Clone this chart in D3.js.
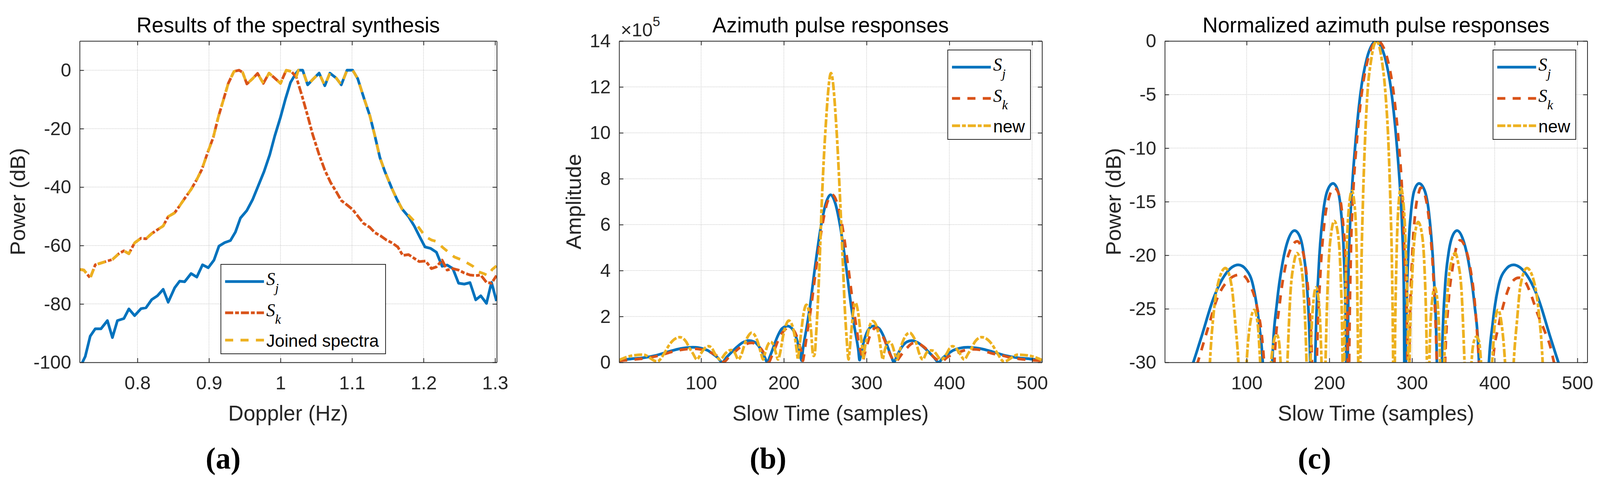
<!DOCTYPE html>
<html>
<head>
<meta charset="utf-8">
<script src="https://cdn.jsdelivr.net/npm/d3@7"></script>
<style>
html, body { margin: 0; padding: 0; background: #fff; overflow: hidden; }
#fig { display: block; width: 100vw; height: 100vh; }
</style>
</head>
<body>
<svg id="fig"></svg>
<script>
/* (a) spectra: [Doppler Hz, power dB] */
var sjSpectrum = [
	[0.719,-103],[0.723,-100],[0.727,-98],[0.734,-91],[0.741,-88.5],[0.749,-88.5],[0.758,-85.7],[0.765,-91.5],[0.772,-85.7],
	[0.781,-85],[0.788,-81.7],[0.796,-84],[0.805,-81.6],[0.812,-81.3],[0.820,-78.5],[0.828,-77.2],[0.836,-75],
	[0.843,-79.4],[0.852,-74.5],[0.859,-72.2],[0.866,-72.4],[0.875,-69.6],[0.883,-70.8],[0.891,-66.6],[0.899,-67.6],
	[0.907,-65],[0.914,-60.2],[0.922,-59],[0.930,-58.3],[0.937,-55.4],[0.944,-50.6],[0.953,-48],[0.961,-44.3],
	[0.969,-39.5],[0.977,-34.7],[0.985,-28.9],[0.992,-22.5],[1.000,-16.1],[1.007,-9.8],[1.014,-4.2],[1.021,-1.3],
	[1.025,0],[1.031,0],[1.038,-5],[1.045,-3.2],[1.054,-1],[1.062,-5.3],[1.069,-1],[1.078,-2.7],[1.085,-5],
	[1.093,0],[1.101,0],[1.108,-2.9],[1.117,-9.8],[1.125,-15.6],[1.132,-22.5],[1.139,-29.9],[1.146,-34.7],
	[1.156,-40.6],[1.163,-44.3],[1.170,-47.5],[1.179,-50.1],[1.187,-53.3],[1.194,-56.7],[1.202,-60.5],[1.210,-61],
	[1.218,-62.3],[1.226,-67.1],[1.233,-66.7],[1.241,-67.9],[1.249,-72.9],[1.257,-73.2],[1.265,-72.7],[1.273,-78.6],
	[1.280,-77.2],[1.288,-79.8],[1.295,-72.6],[1.302,-79]
]
var skSpectrum = [
	[0.719,-68.2],[0.725,-68.4],[0.734,-71.1],[0.741,-66.6],[0.749,-66],[0.758,-65.3],[0.765,-64.8],[0.774,-62.8],
	[0.781,-61.8],[0.788,-62.8],[0.796,-59.1],[0.805,-57.5],[0.812,-57.7],[0.820,-55.9],[0.828,-54.6],[0.836,-53.3],
	[0.843,-50.1],[0.852,-48.8],[0.859,-46.4],[0.866,-43.9],[0.875,-40.8],[0.883,-37.4],[0.890,-34],[0.898,-28.3],
	[0.906,-23],[0.913,-16.1],[0.920,-10.3],[0.927,-4.5],[0.935,-0.4],[0.942,0],[0.947,-0.7],[0.953,-4.7],
	[0.961,-2.9],[0.968,-1.1],[0.976,-4.5],[0.984,-1],[0.991,-2.5],[1.000,-4.5],[1.008,0],[1.015,-0.4],
	[1.022,-2.3],[1.030,-8.7],[1.038,-15.6],[1.045,-22],[1.054,-28.9],[1.062,-34.2],[1.070,-38.4],[1.078,-41.6],
	[1.085,-44.6],[1.093,-46.1],[1.101,-47.7],[1.108,-49.9],[1.116,-52.4],[1.125,-53.8],[1.132,-55.6],[1.140,-56.7],
	[1.148,-58.1],[1.156,-59.1],[1.164,-60.5],[1.171,-63.4],[1.179,-63.1],[1.187,-64.4],[1.194,-65.5],[1.203,-65.3],
	[1.211,-67.9],[1.218,-67.3],[1.226,-65],[1.233,-68.4],[1.241,-67.9],[1.249,-68.4],[1.257,-69.4],[1.265,-70.1],
	[1.273,-70.3],[1.280,-70.1],[1.288,-72.6],[1.295,-72.9],[1.302,-70.3]
]
/* joined spectra: Sk below the crossing, Sj above it, then its own upper tail */
var joinedTail = [
	[1.179,-49.6],[1.187,-51.7],[1.195,-54.4],[1.203,-57],[1.211,-58.1],[1.218,-58.6],[1.227,-60.7],[1.235,-62.3],
	[1.243,-63.9],[1.252,-64.8],[1.260,-65.8],[1.269,-67.1],[1.277,-69],[1.285,-69.7],[1.290,-70.3],[1.296,-68.2],[1.302,-67]
]
var joinedSpectrum = skSpectrum.filter(function(d) { return d[0] < 1.023 })
	.concat(sjSpectrum.filter(function(d) { return d[0] >= 1.023 && d[0] <= 1.171 }))
	.concat(joinedTail)

/* (b) amplitude, units of 1e5: [sample, amplitude] */
var sjAmplitude = [
	[1,0.09],[15,0.15],[30,0.2],[45,0.3],[60,0.46],[75,0.6],[90,0.66],[100,0.62],[108,0.52],[115,0.35],[120,0.21],[125.5,0.01],
	[131,0.23],[137,0.45],[143,0.66],[150,0.86],[158,0.95],[164,0.9],[169,0.74],[173,0.52],[177,0.22],[180,0.01],
	[183,0.24],[187,0.62],[192,1.1],[198,1.48],[204.5,1.58],[210,1.47],[214,1.18],[217.5,0.75],[220,0.33],[221.5,0.08],
	[223,0.55],[225,1.0],[227.5,1.5],[231.5,2.42],[237.5,4.1],[245.5,6.06],[251,6.95],[256.5,7.3],[262,6.95],[267.5,6.06],
	[275.5,4.1],[281.5,2.42],[285.5,1.5],[288,1.0],[290,0.55],[291.5,0.1],
	[293,0.33],[295.5,0.75],[299,1.18],[303,1.47],[308.5,1.58],[315,1.48],[321,1.1],[326,0.62],[330,0.24],[333,0.01],
	[336,0.22],[340,0.52],[344,0.74],[349,0.9],[354.5,0.95],[362,0.86],[369,0.66],[375,0.45],[381,0.23],[387,0.01],
	[392.5,0.21],[397.5,0.35],[404.5,0.52],[412.5,0.62],[422.5,0.66],[437.5,0.6],[452.5,0.46],[467.5,0.3],[482.5,0.2],
	[497.5,0.15],[512,0.09]
]
var skAmplitude = [
	[1,0.073],[20,0.13],[40.8,0.231],[54,0.341],[64,0.455],[77,0.553],[86,0.586],[93,0.593],[103,0.54],[113,0.41],
	[119,0.291],[121,0.231],[124,0.116],[127.5,0.023],
	[133.6,0.231],[140,0.434],[147,0.651],[154,0.792],[160.9,0.849],[167,0.783],[172,0.614],[176,0.41],[179,0.231],[182,0.023],
	[184.9,0.231],[189,0.58],[194,1.033],[200,1.377],[206,1.511],[212,1.393],[216,1.094],[219.5,0.689],[222,0.326],[223,0.073],
	[224,0.231],[226,0.73],[229,1.46],[233,2.42],[239,4.1],[247,6.07],[252.5,6.97],[258.5,7.3],[264.5,6.93],[270,6.07],
	[278,4.1],[284,2.42],[288,1.46],[291,0.73],[294,0.326],[295.5,0.058],
	[297,0.291],[300,0.689],[304,1.158],[308,1.426],[310.5,1.511],[316,1.377],[321,1.033],[325.5,0.614],[330,0.231],[335,0.023],
	[340,0.231],[344,0.434],[349,0.636],[353.5,0.792],[358.2,0.859],[364.5,0.792],[370,0.651],[376,0.434],[381,0.231],
	[385,0.116],[390,0.023],
	[397.7,0.231],[405,0.345],[412.5,0.455],[420,0.54],[429,0.572],[437,0.547],[444,0.476],[452,0.387],[460,0.326],
	[467.5,0.271],[471.7,0.231],[490,0.13],[512,0.073]
]
var newAmplitude = [
	[1,0.1],[15,0.282],[30,0.335],[47,0.04],
	[55.6,0.398],[60.5,0.704],[65.5,0.935],[74.3,1.098],[81.9,0.903],[86,0.624],[90,0.398],[95,0.126],
	[100,0.398],[104,0.596],[109.2,0.704],[113.5,0.596],[116.4,0.398],[123,0.126],
	[129.6,0.398],[133,0.501],[136.2,0.537],[139,0.501],[141,0.398],[145,0.126],
	[149.3,0.398],[153,0.841],[157,1.15],[160.9,1.29],[165,1.177],[169,0.841],[172.4,0.398],[175,0.126],
	[177.3,0.398],[180.5,0.75],[183.9,0.893],[187.5,0.75],[190.5,0.398],[193,0.126],
	[195.4,0.398],[199,1.124],[202.5,1.623],[206,1.82],[210,1.623],[213.5,1.061],[216,0.398],[217,0.126],
	[218,0.398],[221,1.335],[224,2.157],[227.3,2.509],[230.5,2.157],[233,1.335],[235,0.398],[236.3,0.282],
	[237.5,0.398],[238.8,1.098],[240.5,2.132],[243,4.175],[246,7.085],[250.5,10.24],[257,12.6],[263.5,10.24],
	[268,7.085],[271.5,4.175],[274,2.132],[275.8,1.098],[277.2,0.398],[278.2,0.126],
	[279.2,0.398],[281.5,1.335],[284,2.241],[286.5,2.601],[289.5,2.241],[292.5,1.335],[295.5,0.398],[296.3,0.126],
	[297,0.398],[300.5,1.061],[304,1.623],[307.5,1.8],[311.5,1.623],[315,1.124],[318,0.398],[319.5,0.126],
	[321,0.398],[324,0.75],[327.5,0.893],[331,0.75],[334,0.398],[336.5,0.126],
	[339,0.398],[343,0.841],[347.5,1.177],[352.3,1.29],[356,1.15],[360,0.841],[363.5,0.398],[368,0.126],
	[372,0.398],[375,0.501],[378,0.524],[381,0.501],[383.5,0.398],[390,0.126],
	[397,0.398],[400,0.596],[404,0.704],[408.5,0.596],[412.5,0.398],[418,0.126],
	[423,0.398],[427,0.624],[431,0.903],[439,1.098],[448,0.935],[453,0.704],[458,0.398],[466,0.04],
	[483,0.335],[498,0.282],[512,0.1]
]

/* (c) normalized power, dB: [sample, dB] */
var sjNormalized = [
	[1,-38.2],[15,-33.7],[30,-31.2],[45,-27.7],[60,-24],[75,-21.7],[90,-20.9],[100,-21.4],[108,-22.9],[115,-26.4],[120,-30.8],[125.5,-50],
	[131,-30],[137,-24.2],[143,-20.9],[150,-18.6],[158,-17.7],[164,-18.2],[169,-19.9],[173,-22.9],[177,-30.4],[180,-50],
	[183,-29.7],[187,-21.4],[192,-16.4],[198,-13.9],[204.5,-13.3],[210,-13.9],[214,-15.8],[217.5,-19.8],[220,-26.9],[221.5,-39.2],
	[223,-22.5],[225,-17.3],[227.5,-13.7],[231.5,-9.6],[237.5,-5],[245.5,-1.6],[251,-0.43],[256.5,0],[262,-0.43],[267.5,-1.6],
	[275.5,-5],[281.5,-9.6],[285.5,-13.7],[288,-17.3],[290,-22.5],[291.5,-37.3],
	[293,-26.9],[295.5,-19.8],[299,-15.8],[303,-13.9],[308.5,-13.3],[315,-13.9],[321,-16.4],[326,-21.4],[330,-29.7],[333,-50],
	[336,-30.4],[340,-22.9],[344,-19.9],[349,-18.2],[354.5,-17.7],[362,-18.6],[369,-20.9],[375,-24.2],[381,-30],[387,-50],
	[392.5,-30.8],[397.5,-26.4],[404.5,-22.9],[412.5,-21.4],[422.5,-20.9],[437.5,-21.7],[452.5,-24],[467.5,-27.7],[482.5,-31.2],
	[497.5,-33.7],[512,-38.2]
]
var skNormalized = [
	[1,-40],[20,-35],[40.8,-30],[54,-26.6],[64,-24.1],[77,-22.4],[86,-21.9],[93,-21.8],[103,-22.6],[113,-25],[119,-28],[121,-30],[124,-36],[127.5,-50],
	[133.6,-30],[140,-24.5],[147,-21],[154,-19.3],[160.9,-18.7],[167,-19.4],[172,-21.5],[176,-25],[179,-30],[182,-50],
	[184.9,-30],[189,-22],[194,-17],[200,-14.5],[206,-13.7],[212,-14.4],[216,-16.5],[219.5,-20.5],[222,-27],[223,-40],
	[224,-30],[226,-20],[229,-14],[233,-9.6],[239,-5],[247,-1.6],[252.5,-0.4],[258.5,0],[264.5,-0.45],[270,-1.6],[278,-5],
	[284,-9.6],[288,-14],[291,-20],[294,-27],[295.5,-42],
	[297,-28],[300,-20.5],[304,-16],[308,-14.2],[310.5,-13.7],[316,-14.5],[321,-17],[325.5,-21.5],[330,-30],[335,-50],
	[340,-30],[344,-24.5],[349,-21.2],[353.5,-19.3],[358.2,-18.6],[364.5,-19.3],[370,-21],[376,-24.5],[381,-30],[385,-36],[390,-50],
	[397.7,-30],[405,-26.5],[412.5,-24.1],[420,-22.6],[429,-22.1],[437,-22.5],[444,-23.7],[452,-25.5],[460,-27],[467.5,-28.6],
	[471.7,-30],[490,-35],[512,-40]
]
var newNormalized = [
	[1,-42],[15,-33],[30,-31.5],[47,-50],
	[55.6,-30],[60.5,-25.1],[65.5,-22.6],[74.3,-21.2],[81.9,-22.9],[86,-26.1],[90,-30],[95,-40],
	[100,-30],[104,-26.5],[109.2,-25.1],[113.5,-26.5],[116.4,-30],[123,-40],
	[129.6,-30],[133,-28],[136.2,-27.4],[139,-28],[141,-30],[145,-40],
	[149.3,-30],[153,-23.5],[157,-20.8],[160.9,-19.8],[165,-20.6],[169,-23.5],[172.4,-30],[175,-40],
	[177.3,-30],[180.5,-24.5],[183.9,-23],[187.5,-24.5],[190.5,-30],[193,-40],
	[195.4,-30],[199,-21],[202.5,-17.8],[206,-16.8],[210,-17.8],[213.5,-21.5],[216,-30],[217,-40],
	[218,-30],[221,-19.5],[224,-15.3],[227.3,-14],[230.5,-15.3],[233,-19.5],[235,-30],[236.3,-33],
	[237.5,-30],[238.8,-21.2],[240.5,-15.4],[243,-9.6],[246,-5],[250.5,-1.8],[257,0],[263.5,-1.8],[268,-5],[271.5,-9.6],
	[274,-15.4],[275.8,-21.2],[277.2,-30],[278.2,-40],
	[279.2,-30],[281.5,-19.5],[284,-15],[286.5,-13.7],[289.5,-15],[292.5,-19.5],[295.5,-30],[296.3,-40],
	[297,-30],[300.5,-21.5],[304,-17.8],[307.5,-16.9],[311.5,-17.8],[315,-21],[318,-30],[319.5,-40],
	[321,-30],[324,-24.5],[327.5,-23],[331,-24.5],[334,-30],[336.5,-40],
	[339,-30],[343,-23.5],[347.5,-20.6],[352.3,-19.8],[356,-20.8],[360,-23.5],[363.5,-30],[368,-40],
	[372,-30],[375,-28],[378,-27.6],[381,-28],[383.5,-30],[390,-40],
	[397,-30],[400,-26.5],[404,-25.1],[408.5,-26.5],[412.5,-30],[418,-40],
	[423,-30],[427,-26.1],[431,-22.9],[439,-21.2],[448,-22.6],[453,-25.1],[458,-30],[466,-50],
	[483,-31.5],[498,-33],[512,-42]
]

/* tick values */
var dopplerTicks = [0.8, 0.9, 1, 1.1, 1.2, 1.3]
var spectrumPowerTicks = [-100, -80, -60, -40, -20, 0]
var sampleTicks = [100, 200, 300, 400, 500]
var amplitudeTicks = [0, 2, 4, 6, 8, 10, 12, 14]
var normalizedPowerTicks = [-30, -25, -20, -15, -10, -5, 0]

var W = 4158, H = 1242
var plotTop = 105, plotBottom = 928
var blue = '#0072BD', orange = '#D95319', yellow = '#EDB120'
var ink = '#262626'
var lineWidth = 7
var sans = '"Liberation Sans", Arial, Helvetica, sans-serif'
var serif = '"Liberation Serif", "Times New Roman", serif'
var dashed = '21 19', dashDot = '21 5 10 5'

/* fixed drawing coordinates, scaled to whatever the window is */
var svg = d3.select('#fig').attr('viewBox', '0 0 ' + W + ' ' + H).attr('preserveAspectRatio', 'none')
svg.append('rect').attr('width', W).attr('height', H).attr('fill', '#fff')

/**
 * Draws one MATLAB-style axes box: grid, curves, inward ticks on all sides, labels and legend
 */
function drawPanel(p) {
	var x = d3.scaleLinear().domain(p.xDomain).range([p.left, p.right])
	var y = d3.scaleLinear().domain(p.yDomain).range([plotBottom, plotTop])
	var g = svg.append('g')

	/* dotted grid */
	var grid = g.append('g').attr('stroke', '#c4c4c4').attr('stroke-width', 1.5).attr('stroke-dasharray', '2 2')
	grid.selectAll('.gx').data(p.xTicks).enter().append('line')
		.attr('x1', function(d) { return x(d) }).attr('x2', function(d) { return x(d) })
		.attr('y1', plotTop).attr('y2', plotBottom)
	grid.selectAll('.gy').data(p.yTicks).enter().append('line')
		.attr('y1', function(d) { return y(d) }).attr('y2', function(d) { return y(d) })
		.attr('x1', p.left).attr('x2', p.right)

	/* curves, clipped to the plot area */
	svg.append('clipPath').attr('id', 'clip-' + p.id).append('rect')
		.attr('x', p.left).attr('y', plotTop).attr('width', p.right - p.left).attr('height', plotBottom - plotTop)
	var line = d3.line().x(function(d) { return x(d[0]) }).y(function(d) { return y(d[1]) }).curve(p.curve)
	var curves = g.append('g').attr('clip-path', 'url(#clip-' + p.id + ')')
	p.series.forEach(function(s) {
		curves.append('path').datum(s.data).attr('d', line)
			.attr('fill', 'none').attr('stroke', s.color).attr('stroke-width', lineWidth)
			.attr('stroke-linejoin', 'round').attr('stroke-dasharray', s.dash)
	})

	/* axes on all four sides, ticks pointing inward */
	function styleAxis(a) {
		a.attr('color', ink).attr('font-family', sans).attr('font-size', 49)
		a.select('.domain').attr('stroke-width', 2)
		a.selectAll('.tick line').attr('stroke-width', 2)
		a.selectAll('.tick text').attr('fill', ink)
	}
	g.append('g').attr('transform', 'translate(0,' + plotBottom + ')')
		.call(d3.axisBottom(x).tickValues(p.xTicks).tickFormat(String).tickSizeInner(-11).tickSizeOuter(0).tickPadding(34))
		.call(styleAxis)
	g.append('g').attr('transform', 'translate(0,' + plotTop + ')')
		.call(d3.axisTop(x).tickValues(p.xTicks).tickFormat('').tickSizeInner(-11).tickSizeOuter(0))
		.call(styleAxis)
	g.append('g').attr('transform', 'translate(' + p.left + ',0)')
		.call(d3.axisLeft(y).tickValues(p.yTicks).tickFormat(String).tickSizeInner(-11).tickSizeOuter(0).tickPadding(22))
		.call(styleAxis)
	g.append('g').attr('transform', 'translate(' + p.right + ',0)')
		.call(d3.axisRight(y).tickValues(p.yTicks).tickFormat('').tickSizeInner(-11).tickSizeOuter(0))
		.call(styleAxis)

	/* title and axis labels */
	var cx = (p.left + p.right) / 2
	g.append('text').attr('x', cx).attr('y', 83).attr('text-anchor', 'middle')
		.attr('font-family', sans).attr('font-size', 55).attr('fill', '#000').text(p.title)
	g.append('text').attr('x', cx).attr('y', 1077).attr('text-anchor', 'middle')
		.attr('font-family', sans).attr('font-size', 55).attr('fill', ink).text(p.xLabel)
	g.append('text').attr('transform', 'translate(' + p.yLabelX + ',' + (plotTop + plotBottom) / 2 + ') rotate(-90)')
		.attr('text-anchor', 'middle').attr('font-family', sans).attr('font-size', 55).attr('fill', ink).text(p.yLabel)

	/* panel tag */
	g.append('text').attr('x', p.tagX).attr('y', 1200).attr('text-anchor', 'middle')
		.attr('font-family', serif).attr('font-weight', 'bold').attr('font-size', 78).attr('fill', '#000').text(p.tag)

	/* legend */
	var lg = g.append('g').attr('transform', 'translate(' + p.legend.x + ',' + p.legend.y + ')')
	lg.append('rect').attr('width', p.legend.w).attr('height', 229)
		.attr('fill', '#fff').attr('stroke', ink).attr('stroke-width', 2)
	var rowY = [44, 124, 194]
	p.series.forEach(function(s, i) {
		lg.append('line').attr('x1', 11).attr('x2', 112).attr('y1', rowY[i]).attr('y2', rowY[i])
			.attr('stroke', s.color).attr('stroke-width', lineWidth).attr('stroke-dasharray', s.dash)
		if (s.sub) {
			var t = lg.append('text').attr('x', 118).attr('y', rowY[i] + 9)
				.attr('font-family', serif).attr('font-style', 'italic').attr('font-size', 46).attr('fill', '#000')
			t.append('tspan').text('S')
			t.append('tspan').attr('dy', 19).attr('font-size', 34).text(s.sub)
		} else {
			lg.append('text').attr('x', 118).attr('y', rowY[i] + 17)
				.attr('font-family', sans).attr('font-size', 45).attr('fill', '#000').text(s.name)
		}
	})
	return g
}

drawPanel({
	id: 'a', left: 207, right: 1291, xDomain: [0.7192, 1.3024], yDomain: [-100, 10],
	xTicks: dopplerTicks, yTicks: spectrumPowerTicks, curve: d3.curveLinear,
	title: 'Results of the spectral synthesis', xLabel: 'Doppler (Hz)', yLabel: 'Power (dB)', yLabelX: 65,
	tag: '(a)', tagX: 580,
	legend: { x: 574, y: 677, w: 428 },
	series: [
		{ data: sjSpectrum, color: blue, dash: null, sub: 'j' },
		{ data: skSpectrum, color: orange, dash: dashDot, sub: 'k' },
		{ data: joinedSpectrum, color: yellow, dash: dashed, name: 'Joined spectra' }
	]
})

var panelB = drawPanel({
	id: 'b', left: 1609, right: 2708, xDomain: [1, 512], yDomain: [0, 14],
	xTicks: sampleTicks, yTicks: amplitudeTicks, curve: d3.curveMonotoneX,
	title: 'Azimuth pulse responses', xLabel: 'Slow Time (samples)', yLabel: 'Amplitude', yLabelX: 1510,
	tag: '(b)', tagX: 1996,
	legend: { x: 2463, y: 128, w: 215 },
	series: [
		{ data: sjAmplitude, color: blue, dash: null, sub: 'j' },
		{ data: skAmplitude, color: orange, dash: dashed, sub: 'k' },
		{ data: newAmplitude, color: yellow, dash: dashDot, name: 'new' }
	]
})
/* exponent label of the amplitude axis */
var expo = panelB.append('text').attr('x', 1613).attr('y', 93)
	.attr('font-family', sans).attr('font-size', 49).attr('fill', ink)
expo.append('tspan').text('\u00d710')
expo.append('tspan').attr('dy', -26).attr('font-size', 35).text('5')

drawPanel({
	id: 'c', left: 3027, right: 4125, xDomain: [1, 512], yDomain: [-30, 0],
	xTicks: sampleTicks, yTicks: normalizedPowerTicks, curve: d3.curveMonotoneX,
	title: 'Normalized azimuth pulse responses', xLabel: 'Slow Time (samples)', yLabel: 'Power (dB)', yLabelX: 2912,
	tag: '(c)', tagX: 3416,
	legend: { x: 3880, y: 128, w: 215 },
	series: [
		{ data: sjNormalized, color: blue, dash: null, sub: 'j' },
		{ data: skNormalized, color: orange, dash: dashed, sub: 'k' },
		{ data: newNormalized, color: yellow, dash: dashDot, name: 'new' }
	]
})
</script>
</body>
</html>
